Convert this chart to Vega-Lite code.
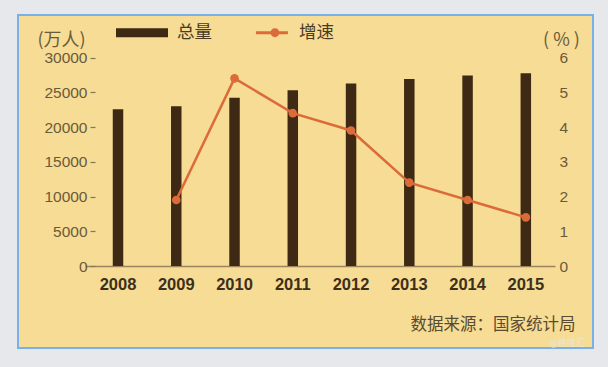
{
  "$schema": "https://vega.github.io/schema/vega-lite/v6.json",
  "width": 575,
  "height": 333,
  "autosize": {"type": "none"},
  "padding": {"left": 18, "top": 15, "right": 15, "bottom": 19},
  "background": "#e7e8eb",
  "title": {
    "text": "@格隆汇",
    "orient": "bottom",
    "anchor": "end",
    "frame": "group",
    "offset": -9,
    "dx": -8,
    "fontSize": 9,
    "font": "Noto Sans CJK SC",
    "fontWeight": "normal",
    "color": "#ece6d6"
  },
  "data": {
    "values": [
      {"year": "2008", "total": 22542, "growth": null},
      {"year": "2009", "total": 22978, "growth": 1.9},
      {"year": "2010", "total": 24223, "growth": 5.4},
      {"year": "2011", "total": 25278, "growth": 4.4},
      {"year": "2012", "total": 26261, "growth": 3.9},
      {"year": "2013", "total": 26894, "growth": 2.4},
      {"year": "2014", "total": 27395, "growth": 1.9},
      {"year": "2015", "total": 27747, "growth": 1.4}
    ]
  },
  "encoding": {
    "x": {
      "field": "year",
      "type": "ordinal",
      "scale": {"range": [67, 537], "paddingInner": 0.82, "paddingOuter": 0.4437, "align": 0.537},
      "axis": {
        "orient": "bottom",
        "offset": -82,
        "labelAngle": 0,
        "labelFont": "Liberation Sans",
        "labelFontSize": 16.5,
        "labelFontWeight": "bold",
        "labelColor": "#3d2f1c",
        "labelPadding": 10,
        "ticks": false,
        "domain": true,
        "domainColor": "#9a8560",
        "domainWidth": 1.5,
        "title": "数据来源：国家统计局",
        "titleFont": "Noto Sans CJK SC",
        "titleFontSize": 16.5,
        "titleFontWeight": "normal",
        "titleColor": "#5a4a30",
        "titleAlign": "right",
        "titleAnchor": "end",
        "titleBaseline": "middle",
        "titleX": 557,
        "titleY": 58
      }
    }
  },
  "layer": [
    {
      "mark": {"type": "bar"},
      "encoding": {
        "y": {
          "field": "total",
          "type": "quantitative",
          "scale": {"domain": [0, 30000], "range": [251, 42.5], "nice": false, "zero": true},
          "axis": {
            "orient": "left",
            "offset": -77,
            "values": [0, 5000, 10000, 15000, 20000, 25000, 30000],
            "format": "d",
            "domain": false,
            "grid": false,
            "ticks": true,
            "tickSize": 5,
            "tickColor": "#8b7650",
            "tickWidth": 1.2,
            "labelFont": "Liberation Sans",
            "labelFontSize": 15.5,
            "labelColor": "#6b5a3a",
            "labelPadding": 3,
            "title": "(万人)",
            "titleAngle": 0,
            "titleFont": "Noto Sans CJK SC",
            "titleFontSize": 18,
            "titleFontWeight": "normal",
            "titleColor": "#6b5a3a",
            "titleAlign": "center",
            "titleBaseline": "middle",
            "titleX": -34,
            "titleY": 25
          }
        },
        "color": {
          "datum": "总量",
          "type": "nominal",
          "scale": {"domain": ["总量", "增速"], "range": ["#3d2914", "#dc6b3a"]},
          "legend": {
            "orient": "none",
            "direction": "horizontal",
            "legendX": 98,
            "legendY": -8.5,
            "title": null,
            "padding": 0,
            "offset": 0,
            "labelFont": "Noto Sans CJK SC",
            "labelFontSize": 17.5,
            "labelColor": "#4a3a22",
            "labelOffset": 9,
            "columnPadding": 26,
            "symbolSize": 2704,
            "encode": {
              "symbols": {
                "update": {
                  "shape": [
                    {"test": "datum.value === '总量'", "value": "M-1,-0.173H1V0.173H-1Z"},
                    {"value": "M-0.31,-0.06H0.92V0.06H-0.31Z M0.25,0A0.17,0.17 0 1,1 0.59,0A0.17,0.17 0 1,1 0.25,0Z"}
                  ],
                  "fill": [
                    {"test": "datum.value === '总量'", "value": "#3d2914"},
                    {"value": "#dc6b3a"}
                  ],
                  "stroke": {"value": "transparent"},
                  "strokeWidth": {"value": 0},
                  "size": {"value": 2704},
                  "opacity": {"value": 1}
                }
              }
            }
          }
        }
      }
    },
    {
      "transform": [{"filter": "datum.growth != null"}],
      "mark": {
        "type": "line",
        "strokeWidth": 2.5,
        "point": {"filled": true, "size": 75, "color": "#e0623b"}
      },
      "encoding": {
        "y": {
          "field": "growth",
          "type": "quantitative",
          "scale": {"domain": [0, 6], "range": [251, 42.5], "nice": false, "zero": true},
          "axis": {
            "orient": "right",
            "offset": -38,
            "values": [0, 1, 2, 3, 4, 5, 6],
            "domain": false,
            "grid": false,
            "ticks": false,
            "tickSize": 0,
            "labelFont": "Liberation Sans",
            "labelFontSize": 15.5,
            "labelColor": "#6b5a3a",
            "labelPadding": 4,
            "title": "( % )",
            "titleAngle": 0,
            "titleFont": "Noto Sans CJK SC",
            "titleFontSize": 18,
            "titleFontWeight": "normal",
            "titleColor": "#6b5a3a",
            "titleAlign": "center",
            "titleBaseline": "middle",
            "titleX": 6,
            "titleY": 25
          }
        },
        "color": {"datum": "增速", "type": "nominal"}
      }
    }
  ],
  "resolve": {"scale": {"y": "independent"}},
  "config": {
    "view": {"fill": "#f6dc95", "stroke": "#7ab0e8", "strokeWidth": 2},
    "axis": {"grid": false}
  }
}
